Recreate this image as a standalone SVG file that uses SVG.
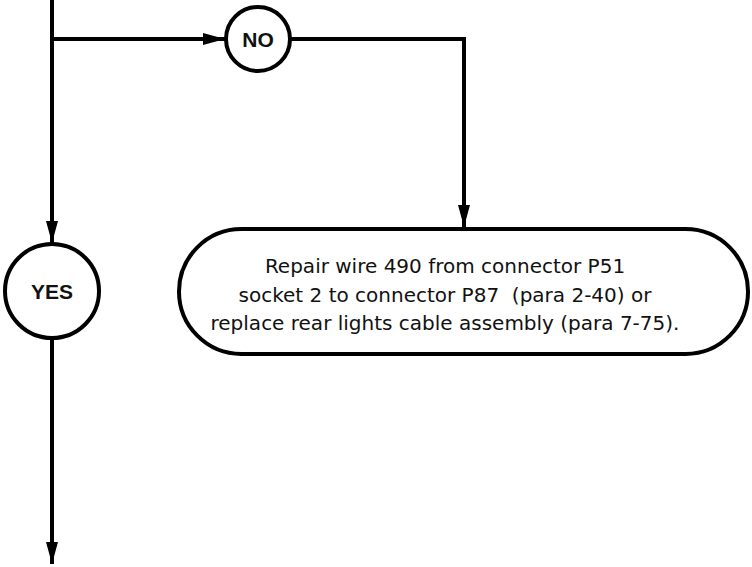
<svg xmlns="http://www.w3.org/2000/svg" width="752" height="567" viewBox="0 0 752 567">
<defs>
<marker id="ah" viewBox="0 0 22 12" refX="22" refY="6" markerWidth="22" markerHeight="12" markerUnits="userSpaceOnUse" orient="auto">
<path d="M0,0 L22,6 L0,12 Z" fill="#000"/>
</marker>
</defs>
<style>
.ln{fill:none;stroke:#000;stroke-width:4}
.nd{fill:#fff;stroke:#000;stroke-width:4}
.lb{font-family:"Liberation Sans",Arial,sans-serif;font-weight:bold;font-size:21px;text-anchor:middle;fill:#111}
.tx{font-family:"DejaVu Sans","Liberation Sans",sans-serif;font-size:20px;text-anchor:middle;fill:#111;white-space:pre}
</style>
<g id="connectors">
<path class="ln" d="M52,0 V243" marker-end="url(#ah)"/>
<path class="ln" d="M52,39 H225" marker-end="url(#ah)"/>
<path class="ln" d="M291,39 H464 V227" marker-end="url(#ah)"/>
<path class="ln" d="M52,339 V564" marker-end="url(#ah)"/>
</g>
<g id="no">
<circle class="nd" cx="258" cy="39" r="32"/>
<text class="lb" x="258" y="46.5">NO</text>
</g>
<g id="yes">
<circle class="nd" cx="52" cy="291" r="47"/>
<text class="lb" x="52" y="298.5">YES</text>
</g>
<g id="repair">
<rect class="nd" x="179" y="229" width="569" height="125" rx="62.5" ry="62.5"/>
<text class="tx" x="445" y="273">Repair wire 490 from connector P51</text>
<text class="tx" x="445" y="302" xml:space="preserve">socket 2 to connector P87  (para 2-40) or</text>
<text class="tx" x="445" y="330">replace rear lights cable assembly (para 7-75).</text>
</g>
</svg>
